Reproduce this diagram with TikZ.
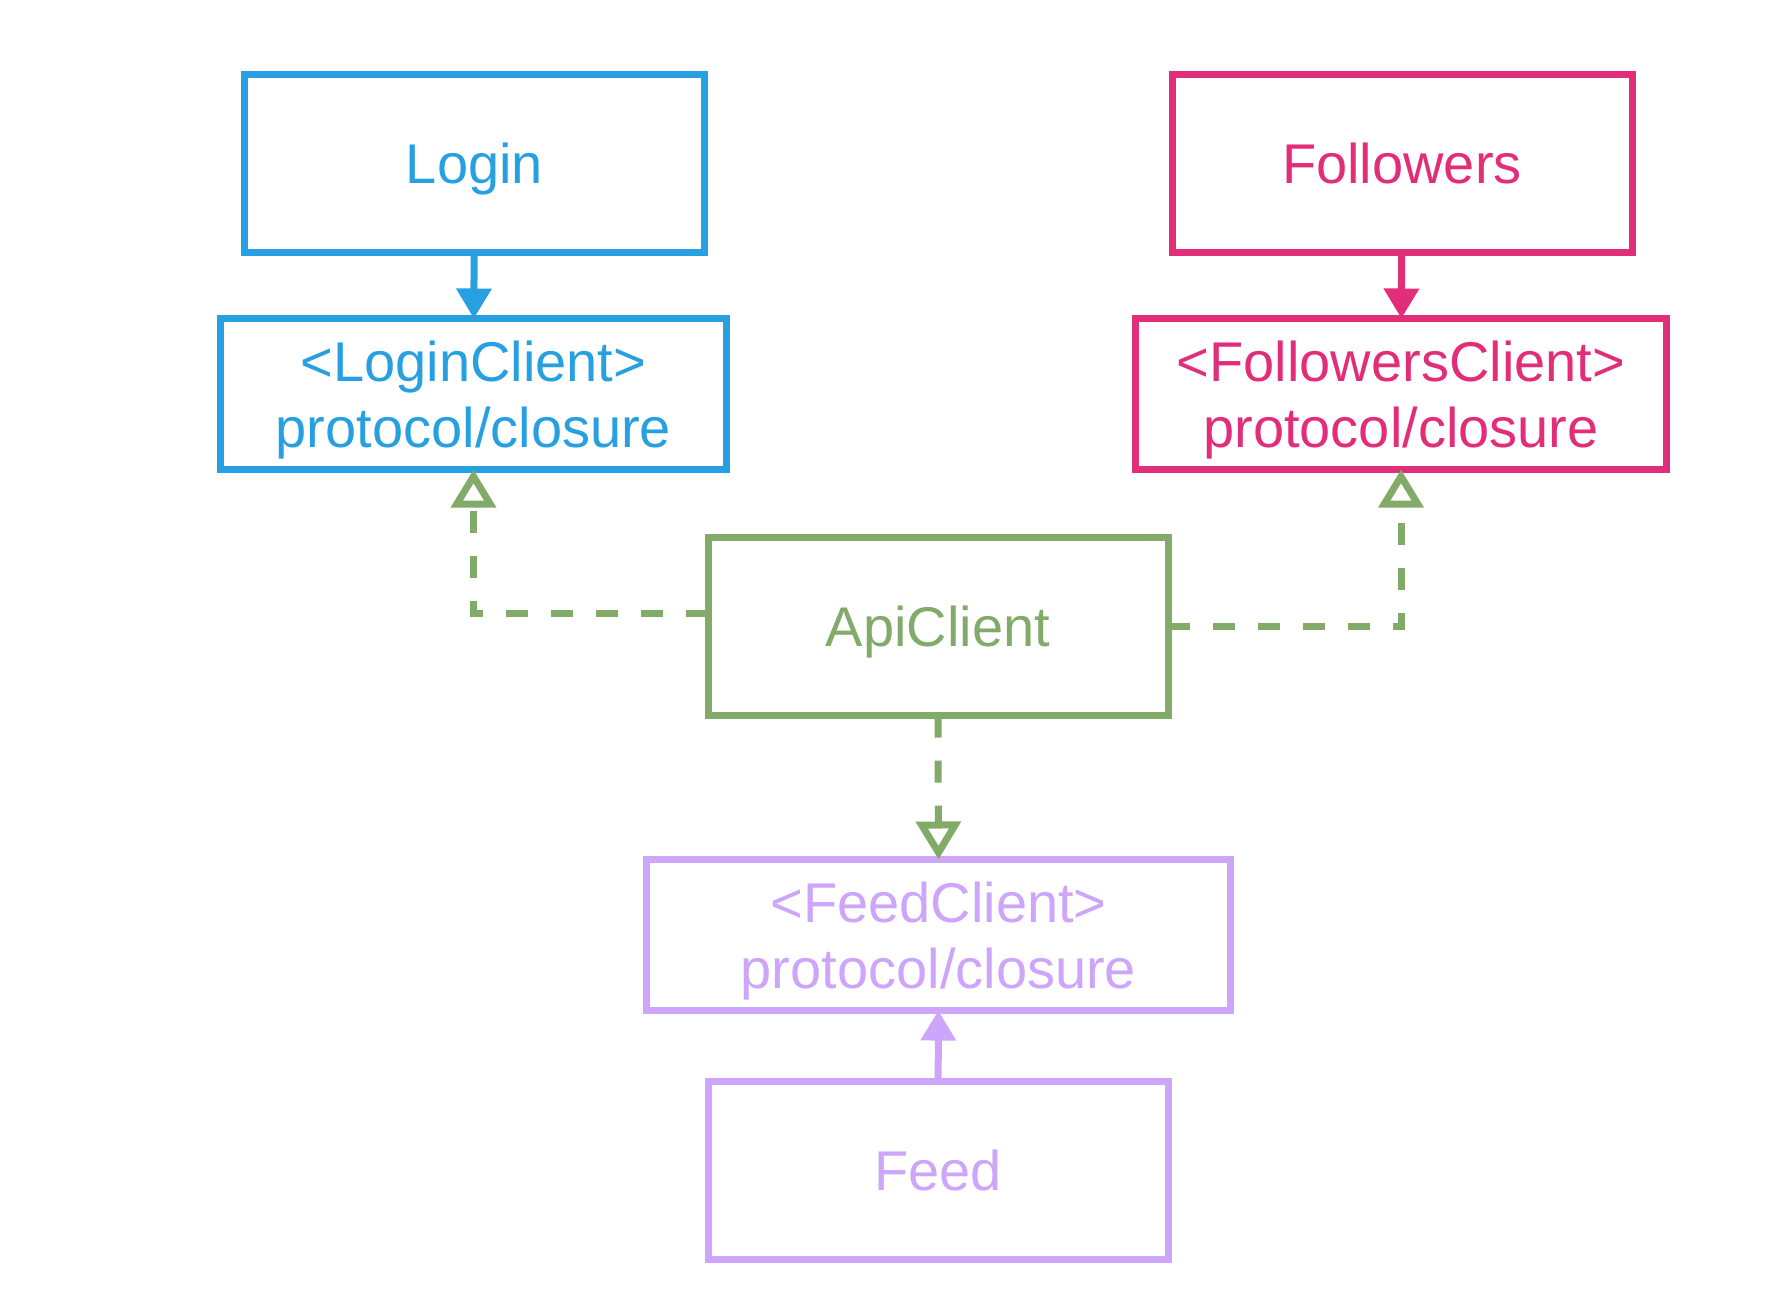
\documentclass[tikz,border=0pt]{standalone}
\usepackage{fontspec}
\setmainfont{Liberation Sans}
\usetikzlibrary{arrows.meta}

\definecolor{loginblue}{RGB}{38,160,225}
\definecolor{followpink}{RGB}{226,45,120}
\definecolor{apigreen}{RGB}{130,170,105}
\definecolor{feedlilac}{RGB}{205,165,250}

\begin{document}
\begin{tikzpicture}[x=1pt, y=-1pt,
        frame/.style={draw, line width=7pt, outer sep=0pt, align=center,
            font=\fontsize{56}{66}\selectfont, minimum width=460pt},
        box/.style={frame, minimum height=178pt, text height=40pt, text depth=0pt},
        client/.style={frame, minimum height=151pt, text depth=0pt},
        uses/.style={line width=7pt, -{Triangle[length=30pt, width=34pt]}},
        impl/.style={line width=7pt, apigreen, dash pattern=on 22pt off 23pt,
            -{Triangle[open, length=38pt, width=44pt]}}]
        \useasboundingbox (0, 0) rectangle (1784, 1298);

        \node[box, loginblue] (login) at (474.5, 163.5) {Login};
        \node[client, loginblue, minimum width=506pt] (logincl) at (473.5, 394) {<LoginClient>\\protocol/closure};

        \node[box, followpink] (follow) at (1402, 163.5) {Followers};
        \node[client, followpink, minimum width=531pt] (followcl) at (1401, 394) {<FollowersClient>\\protocol/closure};

        \node[box, apigreen] (api) at (938, 626.5) {ApiClient};

        \node[client, feedlilac, minimum width=584pt] (feedcl) at (938.5, 935) {<FeedClient>\\protocol/closure};
        \node[box, feedlilac] (feed) at (938, 1170) {Feed};

        \draw[uses, loginblue] (login) -- (logincl);
        \draw[uses, followpink] (follow) -- (followcl);
        \draw[uses, feedlilac] (feed) -- (feedcl);

        % dependency inversion
        \draw[impl] ([yshift=13pt]api.west) -| (logincl.south);
        \draw[impl] (api.east) -| (followcl.south);
        \draw[impl] (api.south) -- (feedcl.north);
    \end{tikzpicture}
\end{document}
